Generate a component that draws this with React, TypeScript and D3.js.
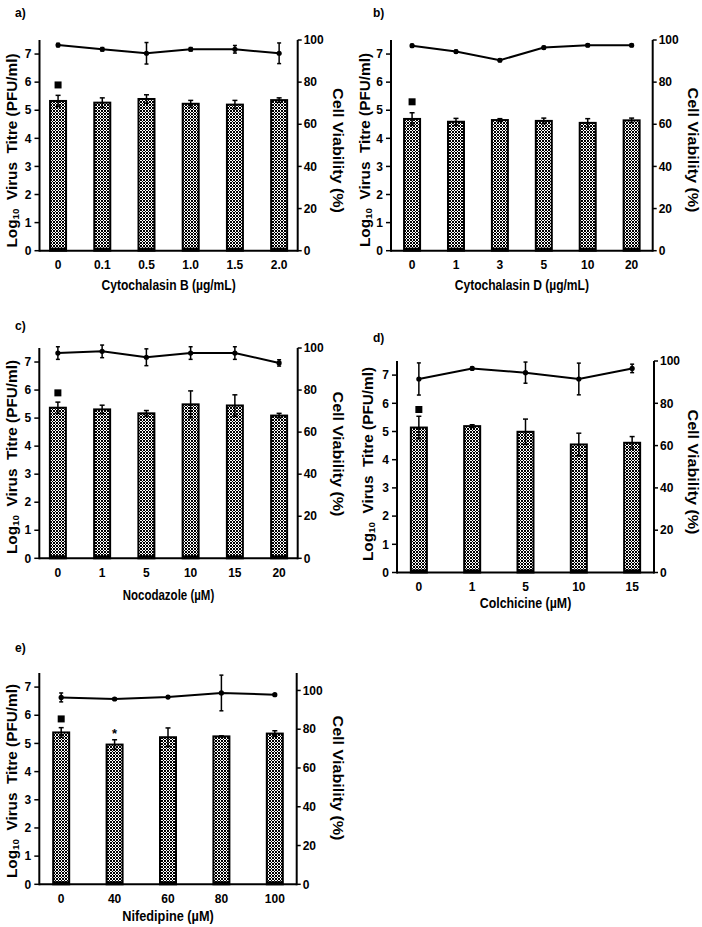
import React from "react";
import * as d3 from "d3";

// ---------- DATA ----------
const catsA = ["0", "0.1", "0.5", "1.0", "1.5", "2.0"];
const titreA = [5.33, 5.27, 5.4, 5.23, 5.2, 5.36];
const titreErrA = [0.2, 0.17, 0.15, 0.12, 0.15, 0.08];
const viabA = [97.6, 95.6, 93.7, 95.6, 95.6, 93.7];
const viabErrA = [0.8, 0.8, 5.1, 0.8, 1.8, 4.9];
const markA = 5.9;

const catsB = ["0", "1", "3", "5", "10", "20"];
const titreB = [4.69, 4.59, 4.65, 4.62, 4.55, 4.64];
const titreErrB = [0.22, 0.12, 0.05, 0.1, 0.15, 0.08];
const viabB = [97.3, 94.5, 90.4, 96.4, 97.5, 97.5];
const viabErrB = [0.6, 0.6, 0.6, 0.6, 0.6, 0.6];
const markB = 5.3;

const catsC = ["0", "1", "5", "10", "15", "20"];
const titreC = [5.37, 5.31, 5.17, 5.49, 5.45, 5.09];
const titreErrC = [0.2, 0.15, 0.1, 0.48, 0.38, 0.08];
const viabC = [97.6, 98.4, 95.6, 97.6, 97.6, 92.9];
const viabErrC = [3, 3, 4, 3, 3, 1.5];
const markC = 5.9;

const catsD = ["0", "1", "5", "10", "15"];
const titreD = [5.14, 5.19, 4.99, 4.54, 4.6];
const titreErrD = [0.4, 0.05, 0.45, 0.4, 0.22];
const viabD = [91.5, 96.5, 94.5, 91.5, 96.5];
const viabErrD = [7.6, 0.6, 5, 7.5, 2];
const markD = 5.78;

const catsE = ["0", "40", "60", "80", "100"];
const titreE = [5.39, 4.96, 5.22, 5.25, 5.35];
const titreErrE = [0.17, 0.17, 0.33, 0.02, 0.1];
const viabE = [96.4, 95.6, 96.6, 98.7, 97.8];
const viabErrE = [2.3, 0.5, 0.5, 9.2, 0.5];
const markE = 5.87;
const starE = { index: 1, value: 5.45 };

const leftTicks = [0, 1, 2, 3, 4, 5, 6, 7];
const rightTicks = [0, 20, 40, 60, 80, 100];

// ---------- LAYOUT ----------
type Panel = {
  key: string;
  label: string;
  title: string;
  cats: string[];
  titre: number[];
  titreErr: number[];
  viab: number[];
  viabErr: number[];
  mark: number;
  star?: { index: number; value: number };
  L: number; R: number; T: number; B: number;
  rightMax: number;
  pad: number;
  labelXY: [number, number];
  titleDy: number;
  leftLabel: [number, number];
  rightLabel: [number, number];
};

const panels: Panel[] = [
  { key: "a", label: "a)", title: "Cytochalasin B (µg/mL)", cats: catsA, titre: titreA, titreErr: titreErrA, viab: viabA, viabErr: viabErrA, mark: markA,
    L: 39.5, R: 297.7, T: 40, B: 250.7, rightMax: 100, pad: 0.42, labelXY: [15, 17], titleDy: 39.5, leftLabel: [17, 150.5], rightLabel: [333, 150.5] },
  { key: "b", label: "b)", title: "Cytochalasin D (µg/mL)", cats: catsB, titre: titreB, titreErr: titreErrB, viab: viabB, viabErr: viabErrB, mark: markB,
    L: 391, R: 652.7, T: 40, B: 250.7, rightMax: 100, pad: 0.48, labelXY: [373, 17], titleDy: 39.5, leftLabel: [370, 150], rightLabel: [688, 150] },
  { key: "c", label: "c)", title: "Nocodazole (µM)", cats: catsC, titre: titreC, titreErr: titreErrC, viab: viabC, viabErr: viabErrC, mark: markC,
    L: 39.3, R: 297.7, T: 348, B: 558.3, rightMax: 100, pad: 0.42, labelXY: [15, 330], titleDy: 41.5, leftLabel: [17, 457], rightLabel: [333, 454] },
  { key: "d", label: "d)", title: "Colchicine (µM)", cats: catsD, titre: titreD, titreErr: titreErrD, viab: viabD, viabErr: viabErrD, mark: markD,
    L: 397, R: 654, T: 361, B: 572.5, rightMax: 100, pad: 0.41, labelXY: [373, 342], titleDy: 35.5, leftLabel: [373, 464], rightLabel: [688, 472] },
  { key: "e", label: "e)", title: "Nifedipine (µM)", cats: catsE, titre: titreE, titreErr: titreErrE, viab: viabE, viabErr: viabErrE, mark: markE, star: starE,
    L: 39.3, R: 296.7, T: 673, B: 884.3, rightMax: 109, pad: 0.41, labelXY: [15, 652], titleDy: 37, leftLabel: [17, 781], rightLabel: [333, 778] },
];

const FONT = "'Liberation Sans', Arial, Helvetica, sans-serif";
const BAR_W = 16;

function PanelChart({ p }: { p: Panel }) {
  const x = d3.scalePoint<string>().domain(p.cats).range([p.L, p.R]).padding(p.pad);
  const y = d3.scaleLinear().domain([0, 7.5]).range([p.B, p.T]);
  const yr = d3.scaleLinear().domain([0, p.rightMax]).range([p.B, p.T]);
  const line = d3
    .line<number>()
    .x((_, i) => x(p.cats[i]) as number)
    .y((v) => yr(v));

  return (
    <g>
      <text x={p.labelXY[0]} y={p.labelXY[1]} fontSize={12} fontFamily={FONT} fontWeight="bold">
        {p.label}
      </text>

      {/* bars */}
      {p.titre.map((v, i) => {
        const cx = x(p.cats[i]) as number;
        return (
          <g key={"bar" + i}>
            <rect x={cx - BAR_W / 2} y={y(v)} width={BAR_W} height={p.B - y(v)} fill="url(#hatch)" stroke="#000" strokeWidth={2} />
            <rect x={cx - BAR_W / 2} y={p.B - 3} width={BAR_W} height={3} fill="#000" />
          </g>
        );
      })}
      {/* bar error bars */}
      {p.titre.map((v, i) => {
        const cx = x(p.cats[i]) as number;
        const e = p.titreErr[i];
        return (
          <g key={"be" + i} stroke="#000" strokeWidth={1.5}>
            <line x1={cx} x2={cx} y1={y(v + e)} y2={y(v - e)} />
            <line x1={cx - 2.5} x2={cx + 2.5} y1={y(v + e)} y2={y(v + e)} />
            <line x1={cx - 2.5} x2={cx + 2.5} y1={y(v - e)} y2={y(v - e)} />
          </g>
        );
      })}
      {/* control marker */}
      <rect x={(x(p.cats[0]) as number) - 3.5} y={y(p.mark) - 3.5} width={7} height={7} fill="#000" />
      {p.star && (
        <text x={x(p.cats[p.star.index]) as number} y={y(p.star.value) + 7} textAnchor="middle" fontSize={13} fontFamily={FONT} fontWeight="bold">
          *
        </text>
      )}

      {/* viability line */}
      <path d={line(p.viab) || ""} fill="none" stroke="#000" strokeWidth={2} />
      {p.viab.map((v, i) => {
        const cx = x(p.cats[i]) as number;
        const e = p.viabErr[i];
        return (
          <g key={"ve" + i} stroke="#000" strokeWidth={1.5}>
            <line x1={cx} x2={cx} y1={yr(v + e)} y2={yr(v - e)} />
            <line x1={cx - 2} x2={cx + 2} y1={yr(v + e)} y2={yr(v + e)} />
            <line x1={cx - 2} x2={cx + 2} y1={yr(v - e)} y2={yr(v - e)} />
            <circle cx={cx} cy={yr(v)} r={2.6} fill="#000" stroke="none" />
          </g>
        );
      })}

      {/* axes */}
      <line x1={p.L} x2={p.R} y1={p.B} y2={p.B} stroke="#000" strokeWidth={2} />
      <line x1={p.L} x2={p.L} y1={p.B + 1} y2={p.T} stroke="#000" strokeWidth={2} />
      <line x1={p.R} x2={p.R} y1={p.B + 1} y2={p.T} stroke="#000" strokeWidth={2} />
      {leftTicks.map((t) => (
        <g key={"lt" + t}>
          <line x1={p.L - 5} x2={p.L} y1={y(t)} y2={y(t)} stroke="#000" strokeWidth={1.5} />
          <text x={p.L - 8} y={y(t) + 4.2} textAnchor="end" fontSize={12} fontFamily={FONT} fontWeight="bold">
            {t}
          </text>
        </g>
      ))}
      {rightTicks.map((t) => (
        <g key={"rt" + t}>
          <line x1={p.R} x2={p.R + 4} y1={yr(t)} y2={yr(t)} stroke="#000" strokeWidth={1.5} />
          <text x={p.R + 6} y={yr(t) + 4.2} textAnchor="start" fontSize={12} fontFamily={FONT} fontWeight="bold">
            {t}
          </text>
        </g>
      ))}
      {p.cats.map((c) => (
        <text key={"xt" + c} x={x(c) as number} y={p.B + 18.5} textAnchor="middle" fontSize={12} fontFamily={FONT} fontWeight="bold">
          {c}
        </text>
      ))}
      <text x={(p.L + p.R) / 2} y={p.B + p.titleDy} textAnchor="middle" fontSize={14} fontFamily={FONT} fontWeight="bold"
        textLength={p.title.length * 6.1} lengthAdjust="spacingAndGlyphs">
        {p.title}
      </text>

      {/* y labels */}
      <text transform={`translate(${p.leftLabel[0]},${p.leftLabel[1]}) rotate(-90)`} textAnchor="middle" fontSize={14}
        fontFamily={FONT} fontWeight="bold" style={{ whiteSpace: "pre" }} textLength={194} lengthAdjust="spacingAndGlyphs">
        Log<tspan fontSize={9} dy={2}>10</tspan><tspan dy={-2}>{"  Virus  Titre (PFU/ml)"}</tspan>
      </text>
      <text transform={`translate(${p.rightLabel[0]},${p.rightLabel[1]}) rotate(90)`} textAnchor="middle" fontSize={14}
        fontFamily={FONT} fontWeight="bold" style={{ whiteSpace: "pre" }} textLength={125} lengthAdjust="spacingAndGlyphs">
        {"Cell Viability (%)"}
      </text>
    </g>
  );
}

export default function App() {
  return (
    <svg width={702} height={927} style={{ position: "absolute", left: 0, top: 0, background: "#fff" }}>
      <defs>
        <pattern id="hatch" width={3} height={3} patternUnits="userSpaceOnUse">
          <rect width={3} height={3} fill="#fff" />
          <path d="M0,0L3,3M3,0L0,3" stroke="#000" strokeWidth={1} />
        </pattern>
      </defs>
      <rect width={702} height={927} fill="#fff" />
      {panels.map((p) => (
        <PanelChart key={p.key} p={p} />
      ))}
    </svg>
  );
}
